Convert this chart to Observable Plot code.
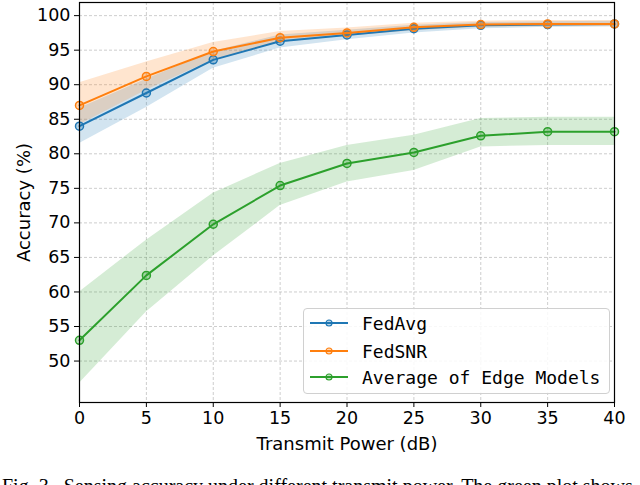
<!DOCTYPE html>
<html>
<head>
<meta charset="utf-8">
<script src="https://cdn.jsdelivr.net/npm/d3@7"></script>
<script src="https://cdn.jsdelivr.net/npm/@observablehq/plot@0.6"></script>
<style>
  html, body { margin: 0; padding: 0; background: #fff; overflow: hidden; }
  #wrap { position: relative; width: 640px; height: 485px; overflow: hidden; }
  #legend { position: absolute; left: 303px; top: 308px; width: 305px; height: 84px;
    border: 1px solid #d0d0d0; border-radius: 4px; background: rgba(255,255,255,0.85);
    font-family: "DejaVu Sans Mono", monospace; font-size: 18px; color: #000; }
  .row { position: absolute; left: 6px; height: 20px; display: flex; align-items: center; }
  .row span { margin-left: 14px; white-space: nowrap; }
  #caption { position: absolute; left: 2px; top: 475px; font-family: "Liberation Serif", serif;
    font-size: 20px; white-space: nowrap; color: #000; }
</style>
</head>
<body>
<div id="wrap">
  <div id="chart"></div>
  <div id="legend"></div>
  <div id="caption">Fig. 3.&nbsp;&nbsp;Sensing accuracy under different transmit power. The green plot shows</div>
</div>
<script>
const power = [0, 5, 10, 15, 20, 25, 30, 35, 40];
const fedAvg   = [84.0, 88.8, 93.6, 96.3, 97.2, 98.1, 98.6, 98.7, 98.8];
const fedAvgLo = [81.5, 86.7, 92.4, 95.3, 96.5, 97.5, 98.1, 98.3, 98.4];
const fedAvgHi = [86.6, 90.8, 94.8, 97.2, 97.9, 98.6, 99.0, 99.1, 99.2];
const fedSNR   = [87.0, 91.2, 94.8, 96.8, 97.5, 98.3, 98.7, 98.8, 98.8];
const fedSNRLo = [84.2, 89.2, 93.6, 96.1, 97.0, 97.8, 98.3, 98.4, 98.4];
const fedSNRHi = [90.3, 93.3, 96.1, 97.7, 98.2, 98.9, 99.2, 99.3, 99.3];
const edge     = [53.0, 62.4, 69.8, 75.4, 78.6, 80.2, 82.6, 83.2, 83.2];
const edgeLo   = [46.8, 57.1, 65.2, 72.5, 75.9, 77.6, 81.0, 81.2, 81.2];
const edgeHi   = [60.0, 67.5, 74.3, 78.6, 81.2, 82.7, 85.1, 85.3, 85.3];
const xTicks = [0, 5, 10, 15, 20, 25, 30, 35, 40];
const yTicks = [50, 55, 60, 65, 70, 75, 80, 85, 90, 95, 100];

const seriesDefs = [
  {name: "FedAvg", color: "#1f77b4", v: fedAvg, lo: fedAvgLo, hi: fedAvgHi},
  {name: "FedSNR", color: "#ff7f0e", v: fedSNR, lo: fedSNRLo, hi: fedSNRHi},
  {name: "Average of Edge Models", color: "#2ca02c", v: edge, lo: edgeLo, hi: edgeHi}
];
const rows = seriesDefs.flatMap(s => power.map((p, i) => ({series: s.name, color: s.color, x: p, y: s.v[i], lo: s.lo[i], hi: s.hi[i]})));

const marks = [
  Plot.gridX(xTicks, {stroke: "#b0b0b0", strokeOpacity: 0.8, strokeDasharray: "3,2", strokeWidth: 0.8}),
  Plot.gridY(yTicks, {stroke: "#b0b0b0", strokeOpacity: 0.8, strokeDasharray: "3,2", strokeWidth: 0.8})
];
for (const s of seriesDefs) {
  const d = rows.filter(r => r.series === s.name);
  marks.push(Plot.areaY(d, {x: "x", y1: "lo", y2: "hi", fill: s.color, fillOpacity: 0.2}));
}
for (const s of seriesDefs) {
  const d = rows.filter(r => r.series === s.name);
  marks.push(Plot.line(d, {x: "x", y: "y", stroke: s.color, strokeWidth: 2}));
  marks.push(Plot.dot(d, {x: "x", y: "y", r: 4, stroke: s.color, strokeWidth: 1.5, fill: s.color, fillOpacity: 0.3}));
}
marks.push(Plot.frame({stroke: "#000", strokeWidth: 1.2}));
marks.push(Plot.axisX({ticks: xTicks, tickSize: 5, tickPadding: 4, fontSize: 17.5,
  label: null}));
marks.push(Plot.axisX({ticks: [], tickSize: 0, fontSize: 18,
  label: "Transmit Power (dB)", labelAnchor: "center", labelArrow: "none", labelOffset: 47}));
marks.push(Plot.axisY({ticks: yTicks, tickSize: 5, tickPadding: 4, fontSize: 17.5,
  label: null}));
marks.push(Plot.axisY({ticks: [], tickSize: 0, fontSize: 18,
  label: "Accuracy (%)", labelAnchor: "center", labelArrow: "none", labelOffset: 62}));

const chart = Plot.plot({
  width: 640,
  height: 455,
  marginLeft: 79,
  marginRight: 26,
  marginTop: 2,
  marginBottom: 53,
  style: {fontFamily: "DejaVu Sans", fontSize: "18px", color: "#000", background: "#fff"},
  x: {domain: [0, 40]},
  y: {domain: [44, 101.9]},
  marks
});
document.getElementById("chart").appendChild(chart);

const legend = document.getElementById("legend");
const rowTops = [4, 32, 58];
seriesDefs.forEach((s, i) => {
  const r = document.createElement("div");
  r.className = "row";
  r.style.top = rowTops[i] + "px";
  r.innerHTML = `<svg width="38" height="12"><line x1="0" y1="6" x2="38" y2="6" stroke="${s.color}" stroke-width="2"/><circle cx="19" cy="6" r="3" stroke="${s.color}" stroke-width="1.2" fill="${s.color}" fill-opacity="0.3"/></svg><span>${s.name}</span>`;
  legend.appendChild(r);
});
</script>
</body>
</html>
